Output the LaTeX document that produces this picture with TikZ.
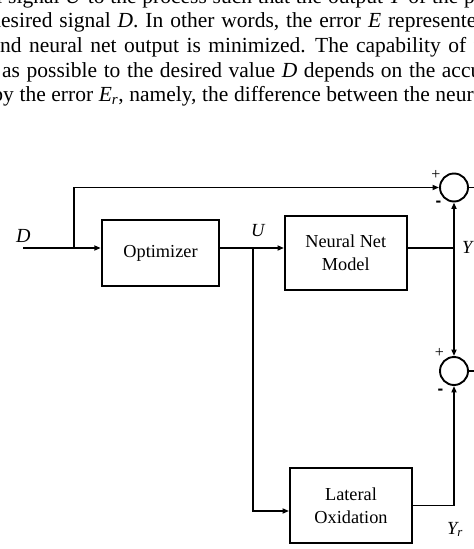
\documentclass[tikz,border=0pt]{standalone}
\usepackage{fontspec}
\setmainfont{Liberation Serif}
\newfontfamily\arialfont{Liberation Sans}
\usetikzlibrary{arrows.meta}
\begin{document}
\begin{tikzpicture}[x=1pt,y=-1pt,
  body/.style={anchor=base west, inner sep=0pt, font=\fontsize{21.5}{24}\selectfont},
  blk/.style={draw, line width=1.9pt, inner sep=0pt, align=center, font=\fontsize{18.3}{23}\selectfont},
  sumnode/.style={draw, circle, line width=1.9pt, minimum size=28pt, inner sep=0pt},
  ln/.style={line width=1.8pt},
  arr/.style={ln, -{Triangle[length=6.5pt,width=5pt]}},
  lbl/.style={anchor=base west, inner sep=0pt, font=\fontsize{18.5}{20}\selectfont\itshape},
  plussign/.style={inner sep=0pt, font=\fontsize{16}{16}\selectfont},
  minussign/.style={inner sep=0pt, font=\arialfont\bfseries\fontsize{17}{17}\selectfont}]
\useasboundingbox (0,0) rectangle (474,549);
\clip (0,0) rectangle (474,549);
\fill[white] (0,0) rectangle (474,549);

% body text
\node[body] (t1) at (8,3) {\spaceskip=5.8pt\relax\llap{control }signal \textit{U} to the process such that the output \textit{Y} of the process};
\node[body] (t2) at (1,27.5) {\spaceskip=6.9pt\relax\llap{d}esired signal \textit{D}. In other words, the error \textit{E} represented};
\node[body] (t3) at (0,52) {\spaceskip=7.5pt\relax\llap{a}nd neural net output is minimized. The capability of the};
\node[body] (t4) at (2,77) {\spaceskip=6.6pt\relax as possible to the desired value \textit{D} depends on the accuracy};
\node[body] (t5) at (3,101.5) {\spaceskip=5.6pt\relax\llap{b}y the error \textit{E}\textsubscript{\textit{r}}, namely, the difference between the neural};

% blocks
\node[blk, minimum width=117.6pt, minimum height=65.7pt] (opt) at (160.5,253) {Optimizer};
\node[blk, minimum width=121.7pt, minimum height=74.3pt] (nn) at (345.8,253) {Neural Net\\Model};
\node[blk, minimum width=122pt, minimum height=75pt] (lat) at (351,505.5) {Lateral\\Oxidation};
\node[sumnode] (s1) at (454,187.5) {};
\node[sumnode] (s2) at (454,371) {};

% coordinates
\coordinate (din) at (23,248);
\coordinate (br) at (74.3,248);
\coordinate (ub) at (253,248);
\coordinate (yj) at (454,248);
\coordinate (o1) at (480,187.5);
\coordinate (o2) at (480,371);

% connectors
\draw[arr] (din) -- (din -| opt.west);
\draw[arr] (br) |- (s1.west);
\draw[arr] (opt.east |- din) -- (nn.west |- din);
\draw[arr] (ub) |- ([yshift=-5.5pt]lat.west);
\draw[ln] (nn.east |- din) -- (yj);
\draw[arr] (yj) -- (s1.south);
\draw[arr] (yj) -- (s2.north);
\draw[arr] (lat.east) -| (s2.south);
\draw[ln] (s1.east) -- (o1);
\draw[ln] (s2.east) -- (o2);

% labels
\node[lbl, font=\fontsize{20}{20}\selectfont\itshape] (ld) at (16,242) {D};
\node[lbl] (lu) at (251,236.5) {U};
\node[lbl] (ly) at (462,253.5) {Y};
\node[lbl] (lyr) at (447,534) {Y\textsubscript{\textit{r}}};
\node[plussign] (p1) at (436,175) {+};
\node[minussign] (m1) at (438.5,204) {-};
\node[plussign] (p2) at (439.5,353) {+};
\node[minussign] (m2) at (440.5,391.3) {-};
\end{tikzpicture}
\end{document}
